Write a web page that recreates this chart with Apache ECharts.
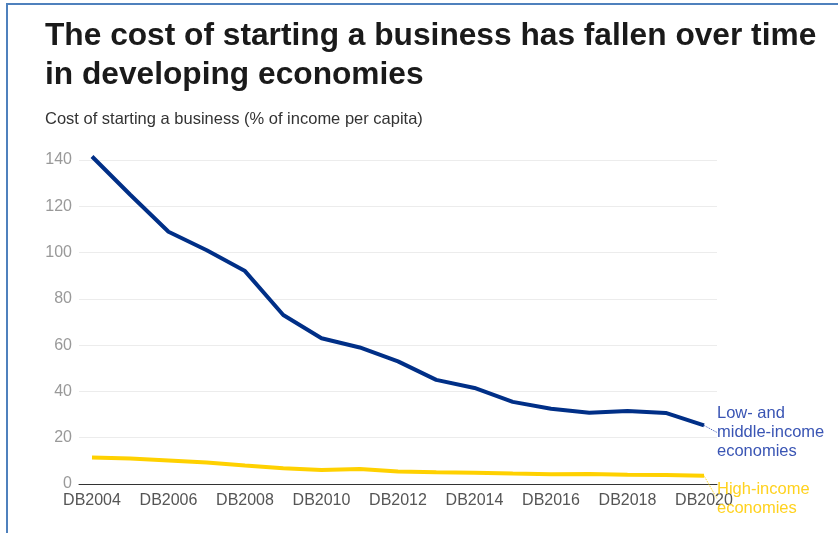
<!DOCTYPE html>
<html lang="en">
<head>
<meta charset="utf-8">
<title>Cost of starting a business</title>
<script src="https://cdn.jsdelivr.net/npm/echarts@6/dist/echarts.min.js"></script>
<style>
  html, body { margin: 0; padding: 0; background: #fff; }
  #wrap { position: relative; width: 838px; height: 533px; }
  #frame { position: absolute; left: 6px; top: 3px; right: 0; bottom: 0;
           border-left: 2px solid #4f81bd; border-top: 2px solid #4f81bd; pointer-events: none; }
  #chart { position: absolute; left: 0; top: 0; width: 838px; height: 533px; }
</style>
</head>
<body>
<div id="wrap">
  <div id="chart"></div>
  <div id="frame"></div>
</div>
<script>
// data
var years = ['DB2004', 'DB2005', 'DB2006', 'DB2007', 'DB2008', 'DB2009', 'DB2010', 'DB2011', 'DB2012',
             'DB2013', 'DB2014', 'DB2015', 'DB2016', 'DB2017', 'DB2018', 'DB2019', 'DB2020'];
var lowMiddle = [141.5, 125, 109, 101, 92, 73, 63, 59, 53, 45, 41.5, 35.5, 32.5, 30.8, 31.5, 30.7, 25.3];
var highIncome = [11.5, 11, 10.2, 9.3, 8, 6.8, 6.1, 6.5, 5.4, 5.1, 4.9, 4.5, 4.2, 4.3, 4, 3.9, 3.6];
var xTicks = [0, 2, 4, 6, 8, 10, 12, 14, 16];

var font = "'Liberation Sans', Arial, sans-serif";
var blue = '#002f87';
var yellow = '#ffd100';

// only the last point carries the end label
function toPoints(vals, labelText, labelColor) {
  return vals.map(function (v, i) {
    if (i === vals.length - 1) {
      return {
        value: [i, v],
        label: {
          show: true,
          position: 'right',
          distance: 5,
          formatter: labelText,
          color: labelColor,
          fontFamily: font,
          fontSize: 16.5,
          lineHeight: 19,
          align: 'left'
        }
      };
    }
    return [i, v];
  });
}

var myChart = echarts.init(document.getElementById('chart'));
var option = {
  animation: false,
  title: [{
    text: 'The cost of starting a business has fallen over time\nin developing economies',
    left: 45,
    top: 17,
    padding: 0,
    textStyle: { fontFamily: font, fontSize: 31.7, fontWeight: 'bold', color: '#1a1a1a', lineHeight: 39 }
  }, {
    text: 'Cost of starting a business (% of income per capita)',
    left: 45,
    top: 111,
    padding: 0,
    textStyle: { fontFamily: font, fontSize: 16.5, fontWeight: 'normal', color: '#333' }
  }],
  grid: { left: 79, right: 121, top: 160, bottom: 49 },
  xAxis: {
    type: 'value',
    min: -0.34,
    max: 16.34,
    splitLine: { show: false },
    axisTick: { show: false },
    axisLine: { show: true, onZero: false, lineStyle: { color: '#333', width: 1 } },
    axisLabel: {
      customValues: xTicks,
      formatter: function (v) { return years[Math.round(v)]; },
      color: '#555',
      fontFamily: font,
      fontSize: 16,
      margin: 9
    }
  },
  yAxis: {
    type: 'value',
    min: 0,
    max: 140,
    interval: 20,
    axisLine: { show: false },
    axisTick: { show: false },
    splitLine: { lineStyle: { color: '#ececec', width: 1 } },
    axisLabel: { color: '#999', fontFamily: font, fontSize: 16, margin: 7 }
  },
  series: [{
    name: 'Low- and middle-income economies',
    type: 'line',
    clip: false,
    showSymbol: true,
    symbol: 'circle',
    symbolSize: 0,
    lineStyle: { color: blue, width: 4 },
    itemStyle: { color: blue },
    data: toPoints(lowMiddle, 'Low- and\nmiddle-income\neconomies', '#3a55b4'),
    labelLayout: { dx: 8, dy: 7 },
    labelLine: { show: true, lineStyle: { color: '#3a55b4', type: 'dotted', width: 1 } }
  }, {
    name: 'High-income economies',
    type: 'line',
    clip: false,
    showSymbol: true,
    symbol: 'circle',
    symbolSize: 0,
    lineStyle: { color: yellow, width: 4 },
    itemStyle: { color: yellow },
    data: toPoints(highIncome, 'High-income\neconomies', '#ffd21f'),
    labelLayout: { dx: 8, dy: 23 },
    labelLine: { show: true, lineStyle: { color: yellow, type: 'dotted', width: 1 } }
  }]
};
myChart.setOption(option);
</script>
</body>
</html>
